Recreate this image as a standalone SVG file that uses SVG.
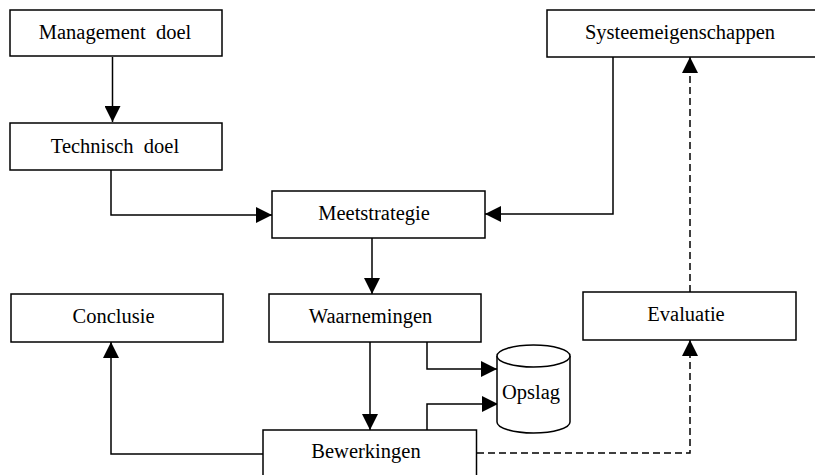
<svg xmlns="http://www.w3.org/2000/svg" width="815" height="475" viewBox="0 0 815 475">
<defs>
<style>
.box{fill:#fff;stroke:#000;stroke-width:1.5}
.lbl{font-family:"Liberation Serif","Times New Roman",serif;font-size:20.5px;fill:#000;text-anchor:middle}
.con{fill:none;stroke:#000;stroke-width:1.5}
.dash{stroke-dasharray:7,4}
</style>
<marker id="ah" viewBox="0 0 16 16" markerWidth="16" markerHeight="16" refX="16" refY="8" orient="auto" markerUnits="userSpaceOnUse">
<path d="M0,0 L16,8 L0,16 z" fill="#000"/>
</marker>
</defs>
<rect width="815" height="475" fill="#fff"/>
<g id="connectors">
<path class="con" d="M112.5,57 V122" marker-end="url(#ah)"/>
<path class="con" d="M111,170 V215 H272" marker-end="url(#ah)"/>
<path class="con" d="M613,57 V214 H485" marker-end="url(#ah)"/>
<path class="con" d="M372,238 V294" marker-end="url(#ah)"/>
<path class="con" d="M370,342 V430" marker-end="url(#ah)"/>
<path class="con" d="M427,342 V369 H497" marker-end="url(#ah)"/>
<path class="con" d="M427,430 V404 H498" marker-end="url(#ah)"/>
<path class="con" d="M263,454 H111 V342" marker-end="url(#ah)"/>
<path class="con dash" d="M477,453 H690 V340" marker-end="url(#ah)"/>
<path class="con dash" d="M690,292 V57" marker-end="url(#ah)"/>
</g>
<g id="management">
<rect class="box" x="10" y="10" width="212" height="46"/>
<text class="lbl" x="115" y="39" xml:space="preserve">Management  doel</text>
</g>
<g id="technisch">
<rect class="box" x="10" y="123" width="212" height="47"/>
<text class="lbl" x="115" y="153" xml:space="preserve">Technisch  doel</text>
</g>
<g id="systeem">
<rect class="box" x="547" y="10" width="280" height="47"/>
<text class="lbl" x="680" y="39">Systeemeigenschappen</text>
</g>
<g id="meetstrategie">
<rect class="box" x="272" y="191" width="213" height="47"/>
<text class="lbl" x="374" y="220">Meetstrategie</text>
</g>
<g id="conclusie">
<rect class="box" x="11" y="294" width="212" height="48"/>
<text class="lbl" x="113.5" y="323">Conclusie</text>
</g>
<g id="waarnemingen">
<rect class="box" x="269" y="294" width="212" height="48"/>
<text class="lbl" x="370.5" y="323">Waarnemingen</text>
</g>
<g id="evaluatie">
<rect class="box" x="583" y="292" width="213" height="48"/>
<text class="lbl" x="686" y="321">Evaluatie</text>
</g>
<g id="opslag">
<path class="box" d="M497,356 V422 A36.5,11 0 0 0 570,422 V356"/>
<ellipse class="box" cx="533.5" cy="356" rx="36.5" ry="11"/>
<text class="lbl" x="531" y="399">Opslag</text>
</g>
<g id="bewerkingen">
<rect class="box" x="263" y="430" width="213.5" height="60"/>
<text class="lbl" x="366" y="458">Bewerkingen</text>
</g>
</svg>
